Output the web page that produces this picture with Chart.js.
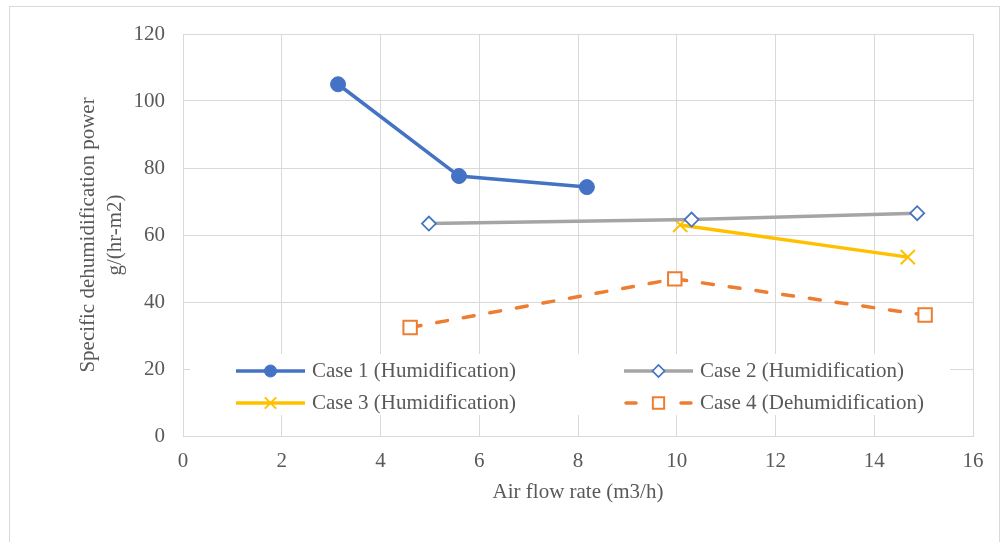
<!DOCTYPE html>
<html>
<head>
<meta charset="utf-8">
<script src="https://cdn.jsdelivr.net/npm/chart.js@4.4.1/dist/chart.umd.min.js"></script>
<style>
  body { margin: 0; background: #fff; }
  #wrap { position: absolute; left: 0; top: 0; width: 1003px; height: 542px; }
</style>
</head>
<body>
<div id="wrap"><canvas id="dehumChart" width="1003" height="542"></canvas></div>
<script>
// values
const case1X = [3.14, 5.59, 8.18];
const case1Y = [105, 77.6, 74.3];
const case2X = [4.98, 10.3, 14.87];
const case2Y = [63.4, 64.6, 66.5];
const case3X = [10.07, 14.68];
const case3Y = [63.0, 53.4];
const case4X = [4.6, 9.96, 15.03];
const case4Y = [32.4, 46.9, 36.1];

const seriesNames = ['Case 1 (Humidification)', 'Case 2 (Humidification)', 'Case 3 (Humidification)', 'Case 4 (Dehumidification)'];
const xTitle = 'Air flow rate (m3/h)';
const yTitle = ['Specific dehumidification power', 'g/(hr-m2)'];

const FONT = 'Liberation Serif';
const FSIZE = 21;
const TXT = '#595959';
const GRID = '#d9d9d9';

function pts(xs, ys) {
  return xs.map((x, i) => ({ x: x, y: ys[i] }));
}

// white page + outer frame
var frame = {
  id: 'frame',
  beforeDraw: function(chart) {
    const ctx = chart.ctx;
    ctx.save();
    ctx.fillStyle = '#fff';
    ctx.fillRect(0, 0, chart.width, chart.height);
    ctx.strokeStyle = GRID;
    ctx.lineWidth = 1;
    ctx.strokeRect(9.5, 6.5, 990, 600);
    ctx.restore();
  }
};

// legend sits inside the plot, two columns
var innerLegend = {
  id: 'innerLegend',
  afterDatasetsDraw: function(chart) {
    const ctx = chart.ctx;
    const area = chart.chartArea;
    ctx.save();
    ctx.fillStyle = '#fff';
    ctx.fillRect(area.left + 7, 354, 760, 61);
    const cols = [area.left + 53, area.left + 441];
    const rows = [371, 403];
    chart.data.datasets.forEach((ds, i) => {
      const x0 = cols[i % 2];
      const y = rows[Math.floor(i / 2)];
      ctx.save();
      ctx.strokeStyle = ds.borderColor;
      ctx.lineWidth = ds.borderWidth;
      ctx.lineCap = ds.borderDash ? 'round' : 'butt';
      if (ds.borderDash) {
        ctx.beginPath(); ctx.moveTo(x0 + 2, y); ctx.lineTo(x0 + 12, y); ctx.stroke();
        ctx.beginPath(); ctx.moveTo(x0 + 57, y); ctx.lineTo(x0 + 67, y); ctx.stroke();
      } else {
        ctx.beginPath(); ctx.moveTo(x0, y); ctx.lineTo(x0 + 69, y); ctx.stroke();
      }
      ctx.restore();
      ctx.save();
      ctx.fillStyle = ds.pointBackgroundColor;
      ctx.strokeStyle = ds.pointBorderColor;
      ctx.lineWidth = ds.pointBorderWidth;
      Chart.helpers.drawPoint(ctx, {
        pointStyle: ds.pointStyle,
        radius: ds.legendRadius,
        borderWidth: ds.pointBorderWidth,
        rotation: 0
      }, x0 + 34.5, y);
      ctx.restore();
      ctx.font = FSIZE + 'px "' + FONT + '"';
      ctx.fillStyle = TXT;
      ctx.textBaseline = 'middle';
      ctx.textAlign = 'left';
      ctx.fillText(ds.label, x0 + 76, y);
    });
    ctx.restore();
  }
};

let ctx = document.getElementById('dehumChart').getContext('2d');
let dehumChart = new Chart(ctx, {
  type: 'scatter',
  data: {
    datasets: [{
      label: seriesNames[0],
      data: pts(case1X, case1Y),
      showLine: true,
      borderColor: '#4472C4',
      borderWidth: 3.5,
      pointStyle: 'circle',
      pointRadius: 7.5,
      legendRadius: 6,
      pointBackgroundColor: '#4472C4',
      pointBorderColor: '#4472C4',
      pointBorderWidth: 1
    }, {
      label: seriesNames[1],
      data: pts(case2X, case2Y),
      showLine: true,
      borderColor: '#A5A5A5',
      borderWidth: 3.5,
      pointStyle: 'rectRot',
      pointRadius: 7,
      legendRadius: 6,
      pointBackgroundColor: '#fff',
      pointBorderColor: '#4472C4',
      pointBorderWidth: 1.75
    }, {
      label: seriesNames[2],
      data: pts(case3X, case3Y),
      showLine: true,
      borderColor: '#FFC000',
      borderWidth: 3.5,
      pointStyle: 'crossRot',
      pointRadius: 10,
      legendRadius: 8,
      pointBackgroundColor: '#FFC000',
      pointBorderColor: '#FFC000',
      pointBorderWidth: 2
    }, {
      label: seriesNames[3],
      data: pts(case4X, case4Y),
      showLine: true,
      borderColor: '#ED7D31',
      borderWidth: 3.5,
      borderDash: [11, 16],
      borderCapStyle: 'round',
      pointStyle: 'rect',
      pointRadius: 9.5,
      legendRadius: 8,
      pointBackgroundColor: '#fff',
      pointBorderColor: '#ED7D31',
      pointBorderWidth: 2
    }]
  },
  plugins: [frame, innerLegend],
  options: {
    responsive: false,
    animation: false,
    events: [],
    layout: {
      padding: { top: 34, right: 30, bottom: 0, left: 0 }
    },
    plugins: {
      legend: { display: false },
      tooltip: { enabled: false }
    },
    scales: {
      x: {
        type: 'linear',
        min: 0,
        max: 16,
        afterFit: function(scale) { scale.height = 106; },
        border: { color: GRID, width: 1 },
        grid: { color: GRID, lineWidth: 1, drawTicks: false },
        ticks: {
          stepSize: 2,
          padding: 13,
          color: TXT,
          font: { family: FONT, size: FSIZE }
        },
        title: {
          display: true,
          text: xTitle,
          color: TXT,
          font: { family: FONT, size: FSIZE },
          padding: { top: 0, bottom: 37 }
        }
      },
      y: {
        type: 'linear',
        min: 0,
        max: 120,
        afterFit: function(scale) { scale.width = 183; },
        border: { color: GRID, width: 1 },
        grid: { color: GRID, lineWidth: 1, drawTicks: false },
        ticks: {
          stepSize: 20,
          padding: 18,
          color: TXT,
          font: { family: FONT, size: FSIZE }
        },
        title: {
          display: true,
          text: yTitle,
          color: TXT,
          font: { family: FONT, size: FSIZE, lineHeight: 1.3 },
          padding: { top: 75, bottom: 0 }
        }
      }
    }
  }
});
</script>
</body>
</html>
